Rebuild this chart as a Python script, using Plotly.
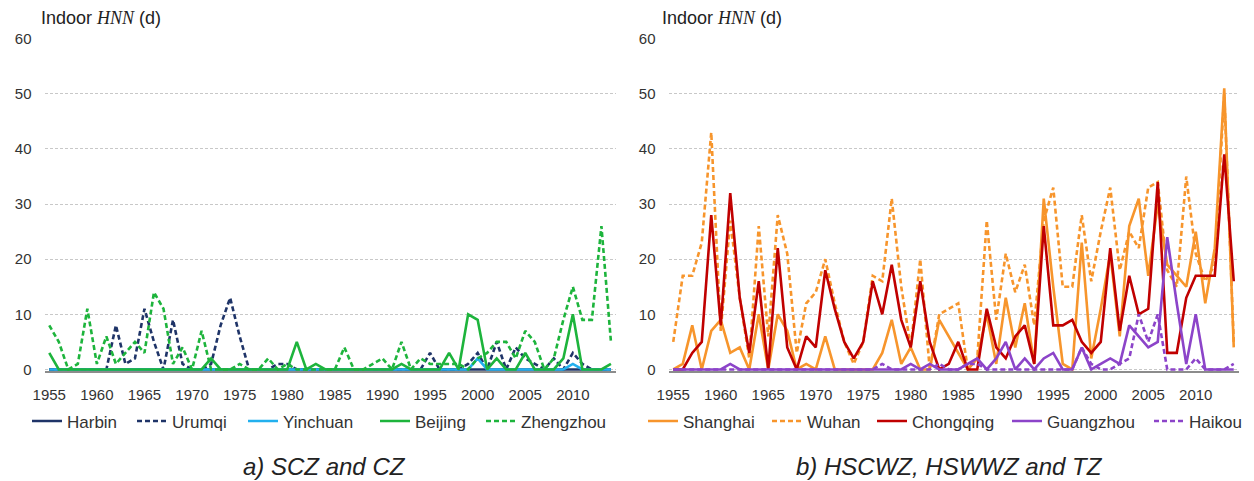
import plotly.graph_objects as go

W, H = 1254, 481

years = list(range(1955, 2015))
tick_years = [1955, 1960, 1965, 1970, 1975, 1980, 1985, 1990, 1995, 2000, 2005, 2010]
y_ticks = [0, 10, 20, 30, 40, 50, 60]

# ---- a) SCZ and CZ ----
harbin = [0, 0, 0, 0, 0, 0, 0, 0, 0, 0,
          0, 0, 0, 0, 0, 0, 0, 0, 0, 0,
          0, 0, 0, 0, 0, 0, 0, 0, 0, 0,
          0, 0, 0, 0, 0, 0, 0, 0, 0, 0,
          0, 0, 0, 0, 0, 0, 0, 0, 0, 0,
          0, 0, 0, 0, 0, 0, 0, 0, 0, 0]
urumqi = [0, 0, 0, 0, 0, 0, 0, 8, 1, 2,
          11, 5, 0, 9, 1, 0, 0, 1, 8, 13,
          6, 0, 0, 0, 1, 1, 0, 0, 0, 0,
          0, 0, 0, 0, 0, 0, 0, 0, 0, 0,
          3, 0, 0, 0, 1, 3, 0, 5, 0, 4,
          2, 1, 0, 2, 0, 3, 1, 0, 0, 0]
yinchuan = [0, 0, 0, 0, 0, 0, 0, 0, 0, 0,
            0, 0, 0, 0, 0, 0, 0, 0, 0, 0,
            0, 0, 0, 0, 0, 0, 0, 0, 0, 0,
            0, 0, 0, 0, 0, 0, 0, 0, 0, 0,
            0, 0, 0, 0, 0, 2, 0, 0, 0, 0,
            0, 0, 0, 0, 0, 1, 0, 0, 0, 0]
beijing = [3, 0, 0, 0, 0, 0, 0, 0, 0, 0,
           0, 0, 0, 0, 0, 0, 0, 2, 0, 0,
           0, 0, 0, 0, 0, 0, 5, 0, 1, 0,
           0, 0, 0, 0, 0, 0, 0, 1, 0, 0,
           0, 0, 3, 0, 10, 9, 0, 2, 0, 0,
           3, 0, 0, 0, 2, 10, 0, 0, 0, 1]
zhengzhou = [8, 5, 0, 1, 11, 1, 6, 1, 3, 5,
             3, 14, 11, 1, 4, 0, 7, 0, 0, 0,
             1, 0, 0, 2, 0, 1, 0, 0, 0, 0,
             0, 4, 0, 0, 1, 2, 0, 5, 0, 2,
             1, 1, 1, 1, 0, 2, 3, 5, 5, 2,
             7, 5, 0, 2, 9, 15, 9, 9, 26, 5]

# ---- b) HSCWZ, HSWWZ and TZ ----
shanghai = [0, 1, 8, 0, 7, 9, 3, 4, 0, 10,
            0, 10, 7, 0, 1, 0, 6, 0, 0, 0,
            0, 0, 3, 9, 1, 4, 0, 0, 9, 6,
            3, 0, 2, 10, 1, 13, 4, 12, 1, 31,
            15, 1, 0, 23, 2, 11, 21, 6, 26, 31,
            17, 30, 19, 17, 15, 25, 12, 22, 51, 4]
wuhan = [5, 17, 17, 23, 43, 7, 27, 13, 2, 26,
         6, 28, 21, 3, 12, 14, 20, 12, 5, 1,
         5, 17, 16, 31, 15, 4, 20, 0, 10, 11,
         12, 0, 2, 27, 9, 21, 14, 19, 8, 27,
         33, 15, 15, 28, 16, 25, 33, 18, 25, 22,
         33, 34, 18, 15, 35, 21, 16, 19, 50, 5]
chongqing = [0, 0, 3, 5, 28, 8, 32, 13, 3, 16,
             0, 22, 4, 0, 6, 4, 18, 11, 5, 2,
             5, 16, 10, 19, 9, 4, 16, 5, 0, 1,
             5, 0, 0, 11, 4, 2, 6, 8, 1, 26,
             8, 8, 9, 5, 3, 5, 22, 7, 17, 10,
             11, 34, 3, 3, 13, 17, 17, 17, 39, 16]
guangzhou = [0, 0, 0, 0, 0, 0, 1, 0, 0, 0,
             0, 0, 0, 0, 0, 0, 0, 0, 0, 0,
             0, 0, 0, 0, 0, 1, 0, 1, 0, 0,
             0, 1, 2, 0, 2, 5, 0, 2, 0, 2,
             3, 0, 0, 4, 0, 1, 2, 1, 8, 6,
             4, 5, 24, 12, 1, 10, 0, 0, 0, 0]
haikou = [0, 0, 0, 0, 0, 0, 0, 0, 0, 0,
          0, 0, 0, 0, 0, 0, 0, 0, 0, 0,
          0, 0, 1, 0, 0, 0, 0, 0, 1, 0,
          0, 1, 1, 0, 0, 0, 0, 0, 0, 0,
          0, 0, 0, 4, 1, 0, 0, 1, 2, 10,
          5, 10, 0, 0, 0, 2, 0, 0, 0, 1]

NAVY = "#1F3468"
LBLUE = "#22B0EE"
GREEN = "#1DB43C"
ORANGE = "#F7952C"
RED = "#C00000"
PURPLE = "#8C44C9"
DASH = "5px,3px"

series = [
    # name, data, color, dash, xaxis, yaxis, legend text start px
    ("Harbin", harbin, NAVY, "solid", "x", "y", 67),
    ("Urumqi", urumqi, NAVY, DASH, "x", "y", 172),
    ("Yinchuan", yinchuan, LBLUE, "solid", "x", "y", 283),
    ("Beijing", beijing, GREEN, "solid", "x", "y", 415),
    ("Zhengzhou", zhengzhou, GREEN, DASH, "x", "y", 521),
    ("Shanghai", shanghai, ORANGE, "solid", "x2", "y2", 683),
    ("Wuhan", wuhan, ORANGE, DASH, "x2", "y2", 807),
    ("Chongqing", chongqing, RED, "solid", "x2", "y2", 912),
    ("Guangzhou", guangzhou, PURPLE, "solid", "x2", "y2", 1047),
    ("Haikou", haikou, PURPLE, DASH, "x2", "y2", 1189),
]

FONT = "Liberation Sans, Arial, sans-serif"
TXT = "#333333"

fig = go.Figure()
layout_legends = {}
for i, (name, data, color, dash, xa, ya, tx) in enumerate(series):
    lg = "legend" if i == 0 else f"legend{i + 1}"
    fig.add_trace(go.Scatter(
        x=years, y=data, name=name, mode="lines",
        line=dict(color=color, width=2.6, dash=dash),
        xaxis=xa, yaxis=ya, legend=lg, hoverinfo="skip",
    ))
    layout_legends[lg] = dict(
        x=(tx - 40) / W, xanchor="left",
        y=1 - 421.5 / H, yanchor="middle",
        orientation="h", bgcolor="rgba(0,0,0,0)",
        font=dict(family=FONT, size=17, color=TXT),
        borderwidth=0, tracegroupgap=0,
    )

y_bottom_px = 371.1
y_top_px = 38.7
ydom = [1 - y_bottom_px / H, 1 - y_top_px / H]

def xax(dom, anchor):
    return dict(
        domain=dom, range=[1954.5, 2014.5], anchor=anchor,
        tickmode="array", tickvals=tick_years, ticktext=[str(t) for t in tick_years],
        showgrid=False, zeroline=False, showline=True,
        linecolor="#8C8C8C", linewidth=1.5, ticks="",
        tickfont=dict(family=FONT, size=15, color=TXT),
        ticklabelstandoff=9, fixedrange=True, automargin=False,
    )

def yax(anchor):
    return dict(
        domain=ydom, range=[-0.3, 60], anchor=anchor,
        tickmode="array", tickvals=y_ticks, ticktext=[str(t) for t in y_ticks],
        showgrid=True, gridcolor="#C8C8C8", gridwidth=1, griddash="3px,2px",
        zeroline=False, showline=False, ticks="",
        tickfont=dict(family=FONT, size=15, color=TXT),
        ticklabelstandoff=12, fixedrange=True, automargin=False,
    )

title_text = ("Indoor <span style=\"font-family:'Liberation Serif','Times New Roman',serif\">"
              "<i>HNN</i></span> (d)")

annotations = [
    dict(text=title_text, x=39 / W, y=1 - 18 / H, xref="paper", yref="paper",
         xanchor="left", yanchor="middle", showarrow=False,
         font=dict(family=FONT, size=18, color="#222222")),
    dict(text=title_text, x=660 / W, y=1 - 18 / H, xref="paper", yref="paper",
         xanchor="left", yanchor="middle", showarrow=False,
         font=dict(family=FONT, size=18, color="#222222")),
    dict(text="<i>a) SCZ and CZ</i>", x=324 / W, y=1 - 466 / H, xref="paper", yref="paper",
         xanchor="center", yanchor="middle", showarrow=False,
         font=dict(family=FONT, size=24, color="#222222")),
    dict(text="<i>b) HSCWZ, HSWWZ and TZ</i>", x=949 / W, y=1 - 466 / H, xref="paper", yref="paper",
         xanchor="center", yanchor="middle", showarrow=False,
         font=dict(family=FONT, size=24, color="#222222")),
]

fig.update_layout(
    width=W, height=H,
    margin=dict(l=0, r=0, t=0, b=0, pad=0, autoexpand=False),
    paper_bgcolor="white", plot_bgcolor="white",
    showlegend=True,
    xaxis=xax([44.5 / W, 615.7 / W], "y"),
    yaxis=yax("x"),
    xaxis2=xax([668.5 / W, 1238.5 / W], "y2"),
    yaxis2=yax("x2"),
    annotations=annotations,
    **layout_legends,
)

fig.write_html("out.html", config={"displayModeBar": False})
